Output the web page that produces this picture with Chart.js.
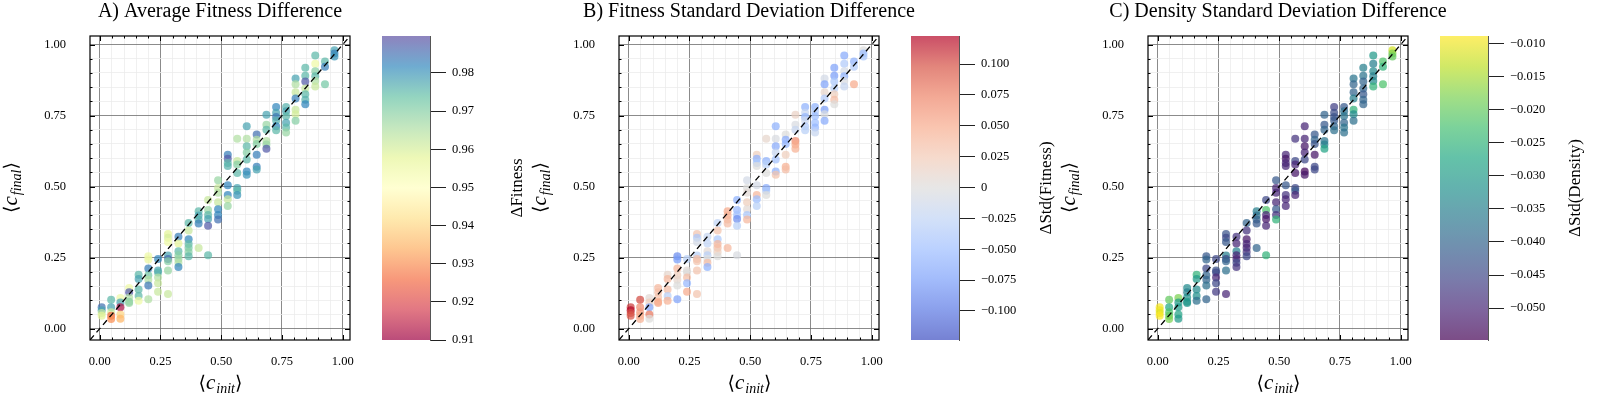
<!DOCTYPE html>
<html>
<head>
<meta charset="utf-8">
<script src="https://cdn.jsdelivr.net/npm/chart.js@4.4.1/dist/chart.umd.min.js"></script>
<style>
  html, body { margin: 0; padding: 0; background: #fff; width: 1600px; height: 400px; overflow: hidden; }
  #page { position: relative; width: 1600px; height: 400px; overflow: hidden; }
  canvas { position: absolute; top: 0; }
</style>
</head>
<body>
<div id="page">
<canvas id="sc0" width="420" height="400" style="left:0px"></canvas>
<canvas id="cb0" width="150" height="400" style="left:382px"></canvas>
<canvas id="sc1" width="420" height="400" style="left:529px"></canvas>
<canvas id="cb1" width="150" height="400" style="left:911px"></canvas>
<canvas id="sc2" width="420" height="400" style="left:1058px"></canvas>
<canvas id="cb2" width="150" height="400" style="left:1440px"></canvas>
</div>
<script>
// same points in every panel, only the colour changes
const cInit = [
  0.008, 0.008, 0.008, 0.008,
  0.047, 0.047, 0.047, 0.047, 0.047,
  0.085, 0.085, 0.085, 0.085, 0.085,
  0.121, 0.121, 0.121, 0.121, 0.121,
  0.160, 0.160, 0.160, 0.160, 0.160,
  0.200, 0.200, 0.200, 0.200, 0.200, 0.200, 0.200,
  0.240, 0.240, 0.240, 0.240, 0.240, 0.240,
  0.281, 0.281, 0.281, 0.281, 0.281, 0.281, 0.281, 0.281,
  0.324, 0.324, 0.324, 0.324, 0.324, 0.324, 0.324,
  0.366, 0.366, 0.366, 0.366, 0.366, 0.366, 0.366,
  0.407, 0.407, 0.407, 0.407, 0.407,
  0.446, 0.446, 0.446, 0.446, 0.446, 0.446,
  0.487, 0.487, 0.487, 0.487, 0.487, 0.487, 0.487,
  0.527, 0.527, 0.527, 0.527, 0.527, 0.527, 0.527, 0.527,
  0.566, 0.566, 0.566, 0.566, 0.566, 0.566, 0.566,
  0.605, 0.605, 0.605, 0.605, 0.605, 0.605, 0.605,
  0.646, 0.646, 0.646, 0.646, 0.646, 0.646,
  0.686, 0.686, 0.686, 0.686, 0.686, 0.686,
  0.726, 0.726, 0.726, 0.726, 0.726, 0.726,
  0.767, 0.767, 0.767, 0.767, 0.767, 0.767,
  0.806, 0.806, 0.806, 0.806, 0.806, 0.806, 0.806,
  0.846, 0.846, 0.846, 0.846, 0.846, 0.846, 0.846,
  0.887, 0.887, 0.887, 0.887, 0.887, 0.887,
  0.927, 0.927, 0.927,
  0.966, 0.966, 0.966
];
const cFinal = [
  0.075, 0.065, 0.055, 0.045,
  0.102, 0.075, 0.058, 0.045, 0.034,
  0.108, 0.092, 0.075, 0.050, 0.035,
  0.143, 0.128, 0.110, 0.095, 0.090,
  0.190, 0.175, 0.138, 0.115, 0.098,
  0.255, 0.243, 0.212, 0.188, 0.172, 0.152, 0.103,
  0.245, 0.205, 0.198, 0.180, 0.160, 0.130,
  0.333, 0.320, 0.305, 0.257, 0.245, 0.237, 0.205, 0.122,
  0.323, 0.300, 0.272, 0.258, 0.245, 0.232, 0.217,
  0.372, 0.345, 0.315, 0.298, 0.285, 0.270, 0.255,
  0.413, 0.398, 0.384, 0.370, 0.284,
  0.453, 0.418, 0.400, 0.386, 0.362, 0.258,
  0.522, 0.495, 0.478, 0.445, 0.420, 0.400, 0.384,
  0.612, 0.598, 0.583, 0.572, 0.505, 0.470, 0.455, 0.432,
  0.668, 0.590, 0.578, 0.548, 0.495, 0.485, 0.470,
  0.712, 0.668, 0.642, 0.620, 0.595, 0.553, 0.542,
  0.683, 0.665, 0.650, 0.612, 0.570, 0.560,
  0.753, 0.718, 0.700, 0.660, 0.648, 0.633,
  0.780, 0.760, 0.745, 0.733, 0.712, 0.698,
  0.780, 0.765, 0.748, 0.725, 0.708, 0.690,
  0.880, 0.860, 0.832, 0.810, 0.770, 0.755, 0.732,
  0.918, 0.890, 0.870, 0.845, 0.825, 0.806, 0.790,
  0.961, 0.932, 0.906, 0.888, 0.872, 0.852,
  0.940, 0.922, 0.860,
  0.980, 0.968, 0.958
];
const avgFitness = [
  0.985, 0.978, 0.962, 0.958,
  0.975, 0.978, 0.960, 0.925, 0.930,
  0.955, 0.978, 0.912, 0.940, 0.935,
  0.955, 0.988, 0.965, 0.970, 0.968,
  0.975, 0.978, 0.975, 0.975, 0.955,
  0.955, 0.956, 0.983, 0.972, 0.965, 0.984, 0.965,
  0.982, 0.978, 0.976, 0.965, 0.962, 0.962,
  0.958, 0.960, 0.955, 0.978, 0.986, 0.970, 0.968, 0.962,
  0.983, 0.958, 0.975, 0.970, 0.968, 0.965, 0.982,
  0.975, 0.962, 0.982, 0.975, 0.972, 0.970, 0.975,
  0.975, 0.978, 0.976, 0.983, 0.962,
  0.962, 0.968, 0.975, 0.978, 0.988, 0.975,
  0.968, 0.962, 0.965, 0.962, 0.982, 0.982, 0.985,
  0.983, 0.988, 0.975, 0.976, 0.982, 0.982, 0.962, 0.968,
  0.965, 0.962, 0.970, 0.975, 0.978, 0.975, 0.980,
  0.978, 0.965, 0.975, 0.970, 0.975, 0.982, 0.980,
  0.985, 0.965, 0.970, 0.983, 0.983, 0.978,
  0.978, 0.968, 0.975, 0.965, 0.968, 0.988,
  0.982, 0.978, 0.984, 0.976, 0.982, 0.975,
  0.976, 0.978, 0.975, 0.978, 0.975, 0.968,
  0.978, 0.965, 0.962, 0.983, 0.962, 0.960, 0.970,
  0.975, 0.975, 0.988, 0.962, 0.975, 0.976, 0.982,
  0.975, 0.955, 0.970, 0.975, 0.965, 0.962,
  0.975, 0.983, 0.972,
  0.978, 0.983, 0.980
];
const stdFitness = [
  0.105, 0.122, 0.100, 0.095,
  0.100, 0.070, 0.060, 0.050, 0.045,
  0.005, 0.020, -0.070, 0.080, 0.000,
  0.040, 0.035, 0.030, 0.045, 0.050,
  0.010, 0.040, 0.035, -0.030, 0.045,
  -0.085, -0.075, 0.040, 0.020, 0.010, 0.000, -0.070,
  -0.030, 0.005, 0.000, 0.035, -0.055, 0.050,
  0.030, -0.040, -0.010, -0.030, 0.035, 0.030, 0.030, 0.030,
  -0.020, -0.025, 0.005, -0.030, 0.000, 0.035, -0.060,
  -0.025, 0.030, -0.040, 0.040, 0.035, 0.020, 0.000,
  0.050, 0.045, 0.040, 0.035, 0.040,
  -0.060, -0.055, -0.045, -0.085, -0.030, -0.005,
  -0.010, 0.000, 0.005, 0.020, 0.005, -0.040, 0.040,
  0.020, -0.060, -0.040, 0.000, -0.010, 0.040, -0.050, -0.030,
  0.010, -0.060, -0.030, 0.000, -0.065, -0.040, 0.000,
  -0.060, -0.005, -0.065, -0.020, -0.045, -0.060, 0.030,
  0.000, -0.065, -0.055, 0.020, 0.045, 0.035,
  0.015, -0.005, -0.020, 0.070, 0.050, 0.045,
  -0.060, -0.020, -0.055, -0.015, -0.035, -0.030,
  -0.060, -0.035, -0.050, -0.050, -0.055, -0.020,
  -0.010, -0.070, 0.010, -0.035, -0.075, -0.005, -0.065,
  -0.070, -0.075, -0.040, -0.030, 0.020, 0.035, 0.000,
  -0.065, -0.035, -0.010, -0.060, -0.005, -0.020,
  -0.060, -0.035, 0.050,
  0.000, -0.050, -0.040
];
const stdDensity = [
  -0.0095, -0.0100, -0.0110, -0.0090,
  -0.020, -0.027, -0.022, -0.020, -0.018,
  -0.018, -0.030, -0.030, -0.028, -0.030,
  -0.033, -0.035, -0.032, -0.030, -0.031,
  -0.025, -0.030, -0.033, -0.032, -0.038,
  -0.042, -0.040, -0.045, -0.040, -0.040, -0.038, -0.040,
  -0.045, -0.043, -0.045, -0.050, -0.045, -0.047,
  -0.043, -0.045, -0.042, -0.035, -0.045, -0.040, -0.038, -0.050,
  -0.048, -0.050, -0.035, -0.050, -0.050, -0.045, -0.048,
  -0.040, -0.048, -0.052, -0.050, -0.050, -0.048, -0.045,
  -0.035, -0.038, -0.040, -0.042, -0.040,
  -0.045, -0.022, -0.050, -0.052, -0.050, -0.025,
  -0.042, -0.050, -0.050, -0.050, -0.042, -0.048, -0.025,
  -0.050, -0.052, -0.050, -0.050, -0.042, -0.048, -0.050, -0.050,
  -0.048, -0.045, -0.050, -0.052, -0.045, -0.042, -0.050,
  -0.050, -0.050, -0.052, -0.050, -0.045, -0.054, -0.052,
  -0.042, -0.040, -0.043, -0.052, -0.045, -0.045,
  -0.040, -0.042, -0.040, -0.037, -0.035, -0.028,
  -0.046, -0.044, -0.043, -0.042, -0.040, -0.038,
  -0.042, -0.038, -0.037, -0.040, -0.037, -0.038,
  -0.037, -0.040, -0.040, -0.035, -0.025, -0.033, -0.038,
  -0.035, -0.037, -0.040, -0.040, -0.042, -0.040, -0.040,
  -0.030, -0.035, -0.033, -0.035, -0.033, -0.025,
  -0.022, -0.025, -0.022,
  -0.012, -0.018, -0.020
];

const axisRange = [-0.04, 1.03];
const axisTicks = [0, 0.25, 0.5, 0.75, 1];
const axisTickLabels = ['0.00', '0.25', '0.50', '0.75', '1.00'];

const avgRange = [0.910, 0.9897];
const avgTicks = [0.91, 0.92, 0.93, 0.94, 0.95, 0.96, 0.97, 0.98];
const avgTickLabels = ['0.91', '0.92', '0.93', '0.94', '0.95', '0.96', '0.97', '0.98'];

const stdFitRange = [-0.1235, 0.1227];
const stdFitTicks = [-0.1, -0.075, -0.05, -0.025, 0, 0.025, 0.05, 0.075, 0.1];
const stdFitTickLabels = ['\u22120.100', '\u22120.075', '\u22120.050', '\u22120.025', '0', '0.025', '0.050', '0.075', '0.100'];

const stdDensRange = [-0.0548, -0.0089];
const stdDensTicks = [-0.05, -0.045, -0.04, -0.035, -0.03, -0.025, -0.02, -0.015, -0.01];
const stdDensTickLabels = ['\u22120.050', '\u22120.045', '\u22120.040', '\u22120.035', '\u22120.030', '\u22120.025', '\u22120.020', '\u22120.015', '\u22120.010'];

// colormaps (matplotlib anchors)
const spectral = ['#9e0142', '#d53e4f', '#f46d43', '#fdae61', '#fee08b', '#ffffbf', '#e6f598', '#abdda4', '#66c2a5', '#3288bd', '#5e4fa2'];
const coolwarm = ['#3b4cc0', '#5977e3', '#7b9ff9', '#9ebeff', '#c0d4f5', '#dddcdc', '#f2cbb7', '#f7ac8e', '#ee8468', '#d65244', '#b40426'];
const viridis = ['#440154', '#482475', '#414487', '#355f8d', '#2a788e', '#21918c', '#22a884', '#44bf70', '#7ad151', '#bddf26', '#fde725'];

function hexRgb(h) {
  return [parseInt(h.slice(1, 3), 16), parseInt(h.slice(3, 5), 16), parseInt(h.slice(5, 7), 16)];
}
function cmap(stops, t, alpha) {
  t = Math.max(0, Math.min(1, t));
  const p = t * (stops.length - 1);
  const i = Math.min(Math.floor(p), stops.length - 2);
  const f = p - i;
  const a = hexRgb(stops[i]), b = hexRgb(stops[i + 1]);
  const c = a.map((v, k) => Math.round(v + (b[k] - v) * f));
  return `rgba(${c[0]},${c[1]},${c[2]},${alpha})`;
}

const serif = '"Liberation Serif", "DejaVu Serif", serif';
Chart.defaults.font.family = serif;
Chart.defaults.font.size = 12.5;
Chart.defaults.color = '#000';

const isMajor = v => axisTicks.some(m => Math.abs(m - v) < 1e-6);
const minorTicks = [];
for (let i = 0; i <= 20; i++) minorTicks.push(Math.round(i * 5) / 100);

// no label-overflow padding, so the plot box stays where the layout puts it
const pinBox = (s, w, h) => {
  if (w !== undefined) s.width = w;
  if (h !== undefined) s.height = h;
  s.paddingLeft = s.paddingRight = s.paddingTop = s.paddingBottom = 0;
};

// <c_sub> drawn piece by piece so the subscript sits lower
function drawMath(ctx, cx, cy, sub, rotate) {
  ctx.save();
  ctx.translate(cx, cy);
  if (rotate) ctx.rotate(-Math.PI / 2);
  const parts = [
    { t: '\u27e8', f: `19px ${serif}`, dy: 0 },
    { t: 'c', f: `italic 21px ${serif}`, dy: -1 },
    { t: sub, f: `italic 14px ${serif}`, dy: 5 },
    { t: '\u27e9', f: `19px ${serif}`, dy: 0 }
  ];
  let total = 0;
  parts.forEach(p => { ctx.font = p.f; p.w = ctx.measureText(p.t).width; total += p.w; });
  let x = -total / 2;
  ctx.fillStyle = '#000';
  ctx.textBaseline = 'middle';
  ctx.textAlign = 'left';
  parts.forEach(p => { ctx.font = p.f; ctx.fillText(p.t, x, p.dy); x += p.w + (p.t === 'c' ? 1 : 0); });
  ctx.restore();
}

function framePlugin(title) {
  return {
    id: 'frame',
    afterDraw(chart) {
      const { ctx, chartArea: a, scales } = chart;
      ctx.save();
      // inward ticks on all four sides
      ctx.strokeStyle = '#000';
      ctx.lineWidth = 1;
      minorTicks.forEach(v => {
        const len = isMajor(v) ? 5 : 2.5;
        const px = Math.round(scales.x.getPixelForValue(v)) + 0.5;
        const py = Math.round(scales.y.getPixelForValue(v)) + 0.5;
        ctx.beginPath();
        ctx.moveTo(px, a.bottom); ctx.lineTo(px, a.bottom - len);
        ctx.moveTo(px, a.top); ctx.lineTo(px, a.top + len);
        ctx.moveTo(a.left, py); ctx.lineTo(a.left + len, py);
        ctx.moveTo(a.right, py); ctx.lineTo(a.right - len, py);
        ctx.stroke();
      });
      ctx.lineWidth = 1.2;
      ctx.strokeRect(a.left, a.top, a.right - a.left, a.bottom - a.top);
      // title and axis labels
      const mid = (a.left + a.right) / 2;
      ctx.fillStyle = '#000';
      ctx.font = `20px ${serif}`;
      ctx.textAlign = 'center';
      ctx.textBaseline = 'middle';
      ctx.fillText(title, mid, 12);
      ctx.restore();
      drawMath(ctx, mid, 384, 'init', false);
      drawMath(ctx, a.left - 78, (a.top + a.bottom) / 2, 'final', true);
    }
  };
}

function makeScatter(id, title, values, stops, range) {
  const pts = cInit.map((x, i) => ({ x: x, y: cFinal[i] }));
  const colors = values.map(v => cmap(stops, (v - range[0]) / (range[1] - range[0]), 0.72));
  const diag = axisRange.map(v => ({ x: v, y: v }));
  const gridColor = c => isMajor(c.tick.value) ? 'rgba(110,110,110,0.8)' : '#ececec';
  const gridWidth = c => isMajor(c.tick.value) ? 1 : 0.8;
  const label = v => { const k = axisTicks.findIndex(m => Math.abs(m - v) < 1e-6); return k < 0 ? '' : axisTickLabels[k]; };
  const axis = (extra) => Object.assign({
    type: 'linear',
    min: axisRange[0],
    max: axisRange[1],
    afterBuildTicks: s => { s.ticks = minorTicks.map(v => ({ value: v })); },
    grid: { color: gridColor, lineWidth: gridWidth, drawTicks: false },
    border: { display: false }
  }, extra);
  return new Chart(document.getElementById(id), {
    type: 'scatter',
    data: {
      datasets: [
        { type: 'line', data: diag, borderColor: '#000', borderWidth: 1.3, borderDash: [6, 4], pointRadius: 0, fill: false, order: 0 },
        { data: pts, pointRadius: 4, pointHoverRadius: 4, pointBorderWidth: 0, pointBackgroundColor: colors, order: 1 }
      ]
    },
    options: {
      responsive: false,
      animation: false,
      events: [],
      layout: { padding: { top: 36, right: 70, left: 0, bottom: 0 } },
      plugins: { legend: { display: false }, tooltip: { enabled: false } },
      scales: {
        x: axis({ afterFit: s => pinBox(s, undefined, 60), ticks: { autoSkip: false, maxRotation: 0, padding: 14, callback: label } }),
        y: axis({ afterFit: s => pinBox(s, 90, undefined), ticks: { autoSkip: false, padding: 24, callback: label } })
      }
    },
    plugins: [framePlugin(title)]
  });
}

function makeColorbar(id, label, stops, range, ticks, tickLabels) {
  const gradient = c => {
    const area = c.chart.chartArea;
    if (!area) return '#ccc';
    const g = c.chart.ctx.createLinearGradient(0, area.bottom, 0, area.top);
    for (let i = 0; i <= 40; i++) g.addColorStop(i / 40, cmap(stops, i / 40, 0.7));
    return g;
  };
  return new Chart(document.getElementById(id), {
    type: 'bar',
    data: {
      labels: [''],
      datasets: [{ data: [range], backgroundColor: gradient, borderWidth: 0, barPercentage: 1, categoryPercentage: 1 }]
    },
    options: {
      responsive: false,
      animation: false,
      events: [],
      layout: { padding: { top: 36, bottom: 60 } },
      plugins: { legend: { display: false }, tooltip: { enabled: false } },
      scales: {
        x: { display: false },
        y: {
          position: 'right',
          min: range[0],
          max: range[1],
          afterBuildTicks: s => { s.ticks = ticks.map(v => ({ value: v })); },
          afterFit: s => pinBox(s, 102, undefined),
          grid: { drawOnChartArea: false, tickLength: 16, color: '#222', lineWidth: 1 },
          border: { display: true, color: '#555' },
          ticks: { autoSkip: false, padding: 6, callback: (v, i) => tickLabels[i] }
        }
      }
    },
    plugins: [{
      id: 'cblabel',
      afterDraw(chart) {
        const { ctx, chartArea: a } = chart;
        ctx.save();
        ctx.translate(a.right + 88, (a.top + a.bottom) / 2);
        ctx.rotate(-Math.PI / 2);
        ctx.font = `17px ${serif}`;
        ctx.fillStyle = '#000';
        ctx.textAlign = 'center';
        ctx.textBaseline = 'middle';
        ctx.fillText(label, 0, 0);
        ctx.restore();
      }
    }]
  });
}

makeScatter('sc0', 'A) Average Fitness Difference', avgFitness, spectral, avgRange);
makeColorbar('cb0', '\u0394Fitness', spectral, avgRange, avgTicks, avgTickLabels);
makeScatter('sc1', 'B) Fitness Standard Deviation Difference', stdFitness, coolwarm, stdFitRange);
makeColorbar('cb1', '\u0394Std(Fitness)', coolwarm, stdFitRange, stdFitTicks, stdFitTickLabels);
makeScatter('sc2', 'C) Density Standard Deviation Difference', stdDensity, viridis, stdDensRange);
makeColorbar('cb2', '\u0394Std(Density)', viridis, stdDensRange, stdDensTicks, stdDensTickLabels);
</script>
</body>
</html>
